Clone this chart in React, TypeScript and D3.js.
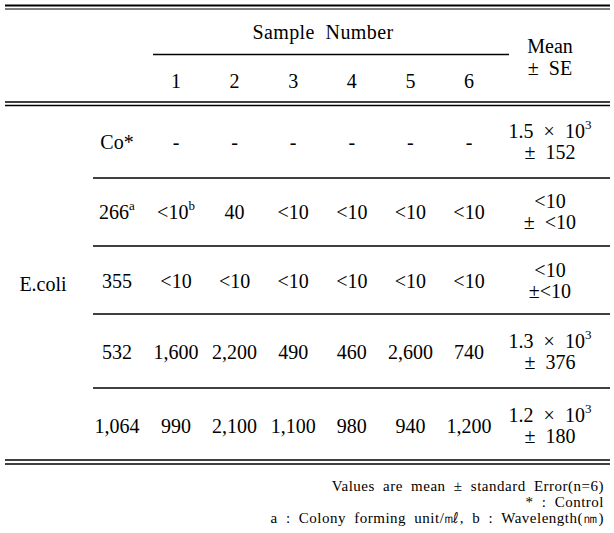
import * as d3 from 'd3';

// table contents
const samples = ['1', '2', '3', '4', '5', '6'];
const rowLabels = ['Co*', '266', '355', '532', '1,064'];
const rowSup = ['', 'a', '', '', ''];
const values = [
    ['-', '-', '-', '-', '-', '-'],
    ['<10', '40', '<10', '<10', '<10', '<10'],
    ['<10', '<10', '<10', '<10', '<10', '<10'],
    ['1,600', '2,200', '490', '460', '2,600', '740'],
    ['990', '2,100', '1,100', '980', '940', '1,200'],
];
const valueSup = [
    ['', '', '', '', '', ''],
    ['b', '', '', '', '', ''],
    ['', '', '', '', '', ''],
    ['', '', '', '', '', ''],
    ['', '', '', '', '', ''],
];
const meanTop = ['1.5  ×  10', '<10', '<10', '1.3  ×  10', '1.2  ×  10'];
const meanTopSup = ['3', '', '', '3', '3'];
const meanBottom = ['±  152', '±  <10', '±<10', '±  376', '±  180'];
const groupLabel = 'E.coli';
const notes = [
    'Values are mean ± standard Error(n=6)',
    '* : Control',
    'a : Colony forming unit/㎖, b : Wavelength(㎚)',
];

const W = 614;
const H = 533;
const font = '"Liberation Serif", "Times New Roman", serif';

export default function App() {
    const x = d3.scalePoint<string>().domain(samples).range([176, 469]);
    // row centres and separators
    const rowMid = [142, 212, 281, 352, 426];
    const rowLines = [178, 246, 314, 388];
    const meanX = 550;
    const labelX = 117;
    const fs = 20;

    return (
        <svg width={W} height={H} style={{ position: 'absolute', left: 0, top: 0, background: '#fff' }}
            fontFamily={font} fill="#000" xmlSpace="preserve">
            {/* top double rule */}
            <line x1={5} x2={610} y1={5.5} y2={5.5} stroke="#000" strokeWidth={2} />
            <line x1={5} x2={610} y1={9} y2={9} stroke="#000" strokeWidth={1.2} />

            <text x={323} y={39} fontSize={fs} textAnchor="middle" letterSpacing={0.4} style={{ whiteSpace: 'pre' }}>Sample  Number</text>
            <line x1={153} x2={509} y1={54.5} y2={54.5} stroke="#000" strokeWidth={1.3} />
            {samples.map((s) => (
                <text key={s} x={x(s)} y={88} fontSize={fs} textAnchor="middle">{s}</text>
            ))}
            <text x={meanX} y={53} fontSize={fs} textAnchor="middle">Mean</text>
            <text x={meanX} y={75} fontSize={fs} textAnchor="middle" style={{ whiteSpace: 'pre' }}>±  SE</text>

            {/* header double rule */}
            <line x1={5} x2={610} y1={102} y2={102} stroke="#000" strokeWidth={1.3} />
            <line x1={5} x2={610} y1={105.5} y2={105.5} stroke="#000" strokeWidth={1.3} />

            {rowLines.map((yy) => (
                <line key={yy} x1={93} x2={610} y1={yy} y2={yy} stroke="#000" strokeWidth={1.3} />
            ))}

            <text x={43} y={291} fontSize={fs} textAnchor="middle">{groupLabel}</text>

            {rowLabels.map((r, i) => {
                const cy = rowMid[i];
                return (
                    <g key={r}>
                        <text x={labelX} y={cy + 7} fontSize={fs} textAnchor="middle">
                            {r}
                            {rowSup[i] && <tspan fontSize={13} dy={-9}>{rowSup[i]}</tspan>}
                        </text>
                        {values[i].map((v, j) => (
                            <text key={j} x={x(samples[j])} y={cy + 7} fontSize={fs} textAnchor="middle">
                                {v}
                                {valueSup[i][j] && <tspan fontSize={13} dy={-9}>{valueSup[i][j]}</tspan>}
                            </text>
                        ))}
                        <text x={meanX} y={cy - 4} fontSize={fs} textAnchor="middle" style={{ whiteSpace: 'pre' }}>
                            {meanTop[i]}
                            {meanTopSup[i] && <tspan fontSize={13} dy={-9}>{meanTopSup[i]}</tspan>}
                        </text>
                        <text x={meanX} y={cy + 17} fontSize={fs} textAnchor="middle" style={{ whiteSpace: 'pre' }}>{meanBottom[i]}</text>
                    </g>
                );
            })}

            {/* bottom double rule */}
            <line x1={5} x2={610} y1={460} y2={460} stroke="#000" strokeWidth={1.3} />
            <line x1={5} x2={610} y1={464} y2={464} stroke="#000" strokeWidth={1.3} />

            {notes.map((n, i) => (
                <text key={i} x={604} y={491 + i * 16} fontSize={15} textAnchor="end"
                    letterSpacing={0.5} wordSpacing={4}>{n}</text>
            ))}
        </svg>
    );
}
